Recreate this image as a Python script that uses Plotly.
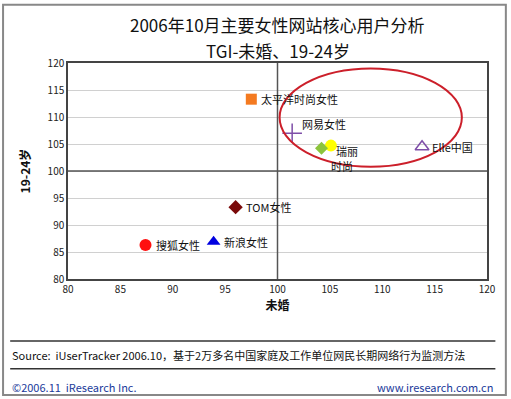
import plotly.graph_objects as go

names = ["太平洋时尚女性", "网易女性", "瑞丽", "时尚", "Elle中国", "TOM女性", "新浪女性", "搜狐女性"]
x_vals = [97.5, 101.4, 104.2, 105.1, 113.8, 96.0, 93.9, 87.4]
y_vals = [113.3, 107.0, 104.2, 104.7, 104.5, 93.3, 86.9, 86.3]

title_lines = ["2006年10月主要女性网站核心用户分析", "TGI-未婚、19-24岁"]
x_title = "未婚"
y_title = "19-24岁"
ticks = [80, 85, 90, 95, 100, 105, 110, 115, 120]
source_text = "Source:  iUserTracker 2006.10，基于2万多名中国家庭及工作单位网民长期网络行为监测方法"
copyright_text = "©2006.11  iResearch Inc."
site_text = "www.iresearch.com.cn"

symbols = ["square", "cross-thin-open", "diamond", "circle", "triangle-up-open", "diamond", "triangle-up", "circle"]
colors = ["#F47A20", "#7E4EA8", "#8CC43C", "#FFFF00", "#7E4EA8", "#7A0A0A", "#0000E0", "#FF1010"]
sizes = [11, 14, 10, 12, 12, 11, 12, 12]

FONT = "Noto Sans CJK SC"

fig = go.Figure()
order = [0, 1, 3, 2, 4, 5, 6, 7]
for i in order:
    lw = 1.5 if symbols[i].endswith("open") else 0
    fig.add_trace(go.Scatter(
        x=[x_vals[i]], y=[y_vals[i]], mode="markers", name=names[i],
        marker=dict(symbol=symbols[i], color=colors[i], size=sizes[i],
                    line=dict(color=colors[i], width=lw)),
        showlegend=False, hoverinfo="name"))

label_offsets = {  # (dx px, dy px)
    0: (8, 0), 1: (8, -9), 4: (8, 0), 5: (8, 0), 6: (8, 0), 7: (8, 0)}
for i, (dx, dy) in label_offsets.items():
    fig.add_annotation(x=x_vals[i], y=y_vals[i], text=names[i], showarrow=False,
                       xanchor="left", yanchor="middle", xshift=dx, yshift=-dy,
                       font=dict(family=FONT, size=11, color="#111"))
fig.add_annotation(x=x_vals[3], y=y_vals[3], text=names[2], showarrow=False,
                   xanchor="left", yanchor="middle", xshift=3, yshift=-5,
                   font=dict(family=FONT, size=11, color="#111"))
fig.add_annotation(x=x_vals[3], y=y_vals[3], text=names[3], showarrow=False,
                   xanchor="left", yanchor="middle", xshift=-2, yshift=-20,
                   font=dict(family=FONT, size=11, color="#111"))

# red ellipse highlight
fig.add_shape(type="circle", xref="x", yref="y", x0=100.2, x1=117.6, y0=100.8, y1=119.0,
              line=dict(color="#CC1F2A", width=2))
# reference lines at 100
fig.add_shape(type="line", xref="x", yref="y", x0=100, x1=100, y0=80, y1=120,
              line=dict(color="#555", width=1.5))
fig.add_shape(type="line", xref="x", yref="y", x0=80, x1=120, y0=100, y1=100,
              line=dict(color="#555", width=1.5))

# titles
fig.add_annotation(xref="paper", yref="paper", x=0.5, y=1, yshift=39, text=title_lines[0],
                   showarrow=False, font=dict(family=FONT, size=17, color="#111"), yanchor="middle")
fig.add_annotation(xref="paper", yref="paper", x=0.5, y=1, yshift=13, text=title_lines[1],
                   showarrow=False, font=dict(family=FONT, size=17, color="#111"), yanchor="middle")

# footer lines and text
fig.add_shape(type="line", xref="paper", yref="paper", x0=-0.138, x1=1.02, y0=-0.287, y1=-0.287,
              line=dict(color="#333", width=1.5))
fig.add_shape(type="line", xref="paper", yref="paper", x0=-0.138, x1=1.02, y0=-0.415, y1=-0.415,
              line=dict(color="#333", width=1.5))
fig.add_annotation(xref="paper", yref="paper", x=-0.138, y=-0.351, text=source_text, showarrow=False,
                   xanchor="left", yanchor="middle", font=dict(family=FONT, size=11, color="#111"))
fig.add_annotation(xref="paper", yref="paper", x=-0.138, y=-0.5, text=copyright_text, showarrow=False,
                   xanchor="left", yanchor="middle", font=dict(family=FONT, size=11, color="#1A3A9A"))
fig.add_annotation(xref="paper", yref="paper", x=1.02, y=-0.5, text=site_text, showarrow=False,
                   xanchor="right", yanchor="middle", font=dict(family=FONT, size=11, color="#1A3A9A"))

# outer frame
fig.add_shape(type="rect", xref="paper", yref="paper", x0=-0.155, x1=1.045, y0=-0.537, y1=1.27,
              line=dict(color="#888", width=2))

fig.update_xaxes(range=[80, 120], tickvals=ticks, showgrid=False, zeroline=False,
                 showline=True, mirror=True, linecolor="#444", linewidth=1.5,
                 ticks="", tickfont=dict(family=FONT, size=10, color="#222"),
                 title=dict(text="<b>" + x_title + "</b>", font=dict(family=FONT, size=12, color="#111"), standoff=6))
fig.update_yaxes(range=[80, 120], tickvals=ticks, showgrid=True, gridcolor="#D0D0D0", gridwidth=1,
                 zeroline=False, showline=True, mirror=True, linecolor="#444", linewidth=1.5,
                 ticks="", tickfont=dict(family=FONT, size=10, color="#222"),
                 title=dict(text="<b>" + y_title + "</b>", font=dict(family=FONT, size=12, color="#111"), standoff=14))

fig.update_layout(width=511, height=399, margin=dict(l=68, r=24, t=63, b=120),
                  plot_bgcolor="white", paper_bgcolor="white", showlegend=False)

fig.write_html("out.html", config={"displayModeBar": False},
               post_script="document.body.style.margin='0';")
